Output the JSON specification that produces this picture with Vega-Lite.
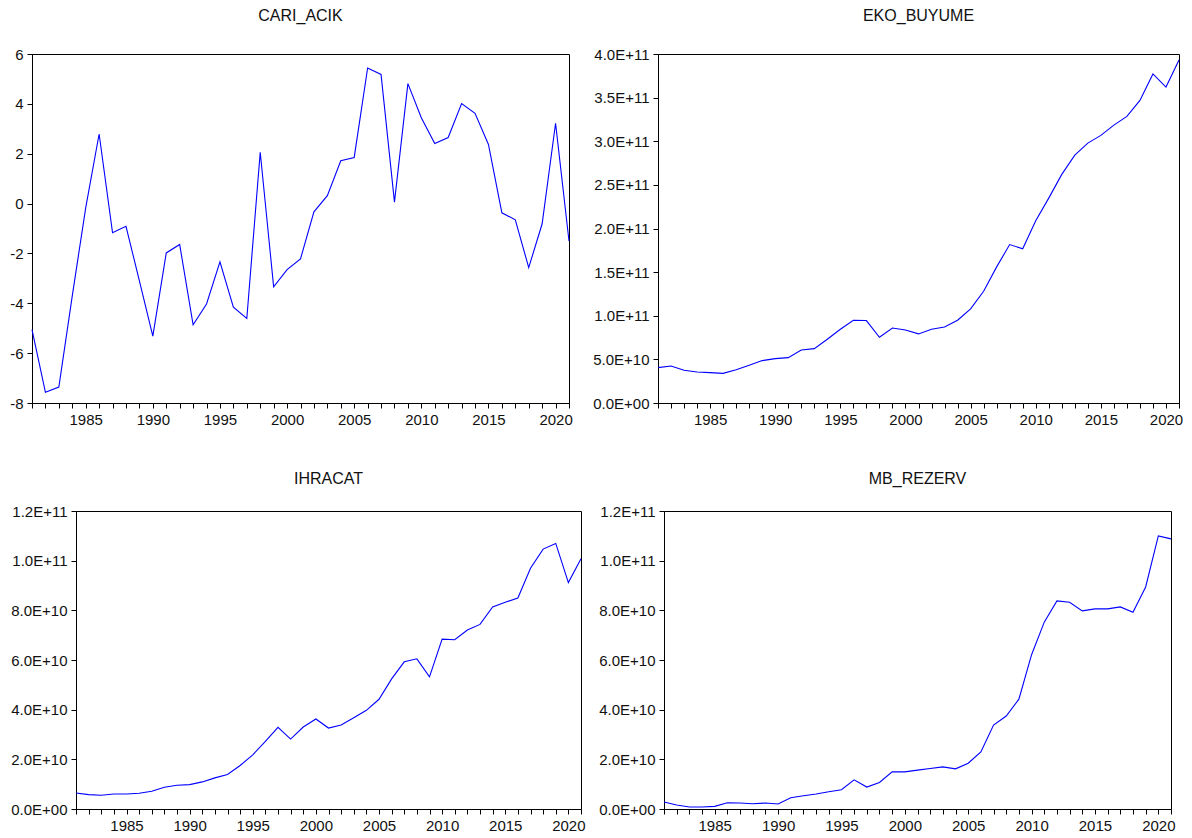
{
  "$schema": "https://vega.github.io/schema/vega-lite/v6.json",
  "background": "white",
  "padding": {"left": 7, "top": 7, "right": 5, "bottom": 4},
  "data": {"values": [
    {"year": 1981, "CARI_ACIK": -5.06, "EKO_BUYUME": 4.05e10, "IHRACAT": 6.46e9, "MB_REZERV": 2.81e9},
    {"year": 1982, "CARI_ACIK": -7.57, "EKO_BUYUME": 4.24e10, "IHRACAT": 5.79e9, "MB_REZERV": 1.60e9},
    {"year": 1983, "CARI_ACIK": -7.36, "EKO_BUYUME": 3.75e10, "IHRACAT": 5.52e9, "MB_REZERV": 0.80e9},
    {"year": 1984, "CARI_ACIK": -3.7, "EKO_BUYUME": 3.56e10, "IHRACAT": 6.06e9, "MB_REZERV": 0.80e9},
    {"year": 1985, "CARI_ACIK": -0.17, "EKO_BUYUME": 3.48e10, "IHRACAT": 6.06e9, "MB_REZERV": 1.07e9},
    {"year": 1986, "CARI_ACIK": 2.79, "EKO_BUYUME": 3.40e10, "IHRACAT": 6.33e9, "MB_REZERV": 2.54e9},
    {"year": 1987, "CARI_ACIK": -1.17, "EKO_BUYUME": 3.82e10, "IHRACAT": 7.14e9, "MB_REZERV": 2.41e9},
    {"year": 1988, "CARI_ACIK": -0.91, "EKO_BUYUME": 4.32e10, "IHRACAT": 8.75e9, "MB_REZERV": 2.14e9},
    {"year": 1989, "CARI_ACIK": -3.1, "EKO_BUYUME": 4.86e10, "IHRACAT": 9.56e9, "MB_REZERV": 2.41e9},
    {"year": 1990, "CARI_ACIK": -5.32, "EKO_BUYUME": 5.09e10, "IHRACAT": 9.83e9, "MB_REZERV": 2.00e9},
    {"year": 1991, "CARI_ACIK": -1.98, "EKO_BUYUME": 5.20e10, "IHRACAT": 1.091e10, "MB_REZERV": 4.54e9},
    {"year": 1992, "CARI_ACIK": -1.64, "EKO_BUYUME": 6.08e10, "IHRACAT": 1.253e10, "MB_REZERV": 5.35e9},
    {"year": 1993, "CARI_ACIK": -4.86, "EKO_BUYUME": 6.23e10, "IHRACAT": 1.387e10, "MB_REZERV": 6.01e9},
    {"year": 1994, "CARI_ACIK": -4.03, "EKO_BUYUME": 7.30e10, "IHRACAT": 1.751e10, "MB_REZERV": 6.95e9},
    {"year": 1995, "CARI_ACIK": -2.34, "EKO_BUYUME": 8.45e10, "IHRACAT": 2.182e10, "MB_REZERV": 7.75e9},
    {"year": 1996, "CARI_ACIK": -4.16, "EKO_BUYUME": 9.48e10, "IHRACAT": 2.721e10, "MB_REZERV": 1.176e10},
    {"year": 1997, "CARI_ACIK": -4.61, "EKO_BUYUME": 9.45e10, "IHRACAT": 3.286e10, "MB_REZERV": 8.82e9},
    {"year": 1998, "CARI_ACIK": 2.06, "EKO_BUYUME": 7.53e10, "IHRACAT": 2.815e10, "MB_REZERV": 1.069e10},
    {"year": 1999, "CARI_ACIK": -3.34, "EKO_BUYUME": 8.60e10, "IHRACAT": 3.30e10, "MB_REZERV": 1.497e10},
    {"year": 2000, "CARI_ACIK": -2.65, "EKO_BUYUME": 8.37e10, "IHRACAT": 3.623e10, "MB_REZERV": 1.497e10},
    {"year": 2001, "CARI_ACIK": -2.22, "EKO_BUYUME": 7.92e10, "IHRACAT": 3.259e10, "MB_REZERV": 1.564e10},
    {"year": 2002, "CARI_ACIK": -0.33, "EKO_BUYUME": 8.45e10, "IHRACAT": 3.380e10, "MB_REZERV": 1.630e10},
    {"year": 2003, "CARI_ACIK": 0.32, "EKO_BUYUME": 8.72e10, "IHRACAT": 3.677e10, "MB_REZERV": 1.697e10},
    {"year": 2004, "CARI_ACIK": 1.72, "EKO_BUYUME": 9.48e10, "IHRACAT": 3.973e10, "MB_REZERV": 1.617e10},
    {"year": 2005, "CARI_ACIK": 1.85, "EKO_BUYUME": 1.078e11, "IHRACAT": 4.418e10, "MB_REZERV": 1.844e10},
    {"year": 2006, "CARI_ACIK": 5.44, "EKO_BUYUME": 1.281e11, "IHRACAT": 5.239e10, "MB_REZERV": 2.299e10},
    {"year": 2007, "CARI_ACIK": 5.18, "EKO_BUYUME": 1.560e11, "IHRACAT": 5.926e10, "MB_REZERV": 3.381e10},
    {"year": 2008, "CARI_ACIK": 0.06, "EKO_BUYUME": 1.816e11, "IHRACAT": 6.047e10, "MB_REZERV": 3.742e10},
    {"year": 2009, "CARI_ACIK": 4.81, "EKO_BUYUME": 1.767e11, "IHRACAT": 5.320e10, "MB_REZERV": 4.423e10},
    {"year": 2010, "CARI_ACIK": 3.44, "EKO_BUYUME": 2.088e11, "IHRACAT": 6.842e10, "MB_REZERV": 6.214e10},
    {"year": 2011, "CARI_ACIK": 2.41, "EKO_BUYUME": 2.348e11, "IHRACAT": 6.815e10, "MB_REZERV": 7.524e10},
    {"year": 2012, "CARI_ACIK": 2.65, "EKO_BUYUME": 2.620e11, "IHRACAT": 7.205e10, "MB_REZERV": 8.379e10},
    {"year": 2013, "CARI_ACIK": 4.01, "EKO_BUYUME": 2.841e11, "IHRACAT": 7.434e10, "MB_REZERV": 8.326e10},
    {"year": 2014, "CARI_ACIK": 3.62, "EKO_BUYUME": 2.979e11, "IHRACAT": 8.135e10, "MB_REZERV": 7.978e10},
    {"year": 2015, "CARI_ACIK": 2.37, "EKO_BUYUME": 3.067e11, "IHRACAT": 8.323e10, "MB_REZERV": 8.058e10},
    {"year": 2016, "CARI_ACIK": -0.37, "EKO_BUYUME": 3.185e11, "IHRACAT": 8.498e10, "MB_REZERV": 8.058e10},
    {"year": 2017, "CARI_ACIK": -0.65, "EKO_BUYUME": 3.285e11, "IHRACAT": 9.697e10, "MB_REZERV": 8.138e10},
    {"year": 2018, "CARI_ACIK": -2.57, "EKO_BUYUME": 3.468e11, "IHRACAT": 1.0465e11, "MB_REZERV": 7.925e10},
    {"year": 2019, "CARI_ACIK": -0.81, "EKO_BUYUME": 3.771e11, "IHRACAT": 1.0694e11, "MB_REZERV": 8.940e10},
    {"year": 2020, "CARI_ACIK": 3.22, "EKO_BUYUME": 3.621e11, "IHRACAT": 9.118e10, "MB_REZERV": 1.0998e11},
    {"year": 2021, "CARI_ACIK": -1.5, "EKO_BUYUME": 3.931e11, "IHRACAT": 1.0074e11, "MB_REZERV": 1.0878e11}
  ]},
  "config": {
    "font": "Liberation Sans",
    "view": {"stroke": "black", "strokeWidth": 1},
    "axis": {"grid": false, "domainColor": "black", "tickColor": "black", "labelColor": "#111111", "labelFont": "Liberation Sans", "labelFontSize": 15, "tickSize": 5, "labelPadding": 4, "domainWidth": 1, "tickWidth": 1, "labelOverlap": false, "labelBound": false, "labelFlush": false},
    "title": {"font": "Liberation Sans", "fontSize": 16, "fontWeight": "normal", "color": "#111111", "baseline": "alphabetic", "frame": "group", "anchor": "middle"},
    "line": {"color": "#0000FF", "strokeWidth": 1.1}
  },
  "spacing": 42,
  "vconcat": [
    {
      "spacing": 7,
      "hconcat": [
        {
          "title": {"text": "CARI_ACIK", "offset": 23},
          "width": 537, "height": 349,
          "mark": "line",
          "encoding": {
            "x": {"field": "year", "type": "quantitative", "scale": {"domain": [1981, 2021], "nice": false, "zero": false},
                  "axis": {"title": null, "values": [1981,1982,1983,1984,1985,1986,1987,1988,1989,1990,1991,1992,1993,1994,1995,1996,1997,1998,1999,2000,2001,2002,2003,2004,2005,2006,2007,2008,2009,2010,2011,2012,2013,2014,2015,2016,2017,2018,2019,2020,2021], "labelExpr": "datum.value % 5 == 0 ? '' + datum.value : ''"}},
            "y": {"field": "CARI_ACIK", "type": "quantitative", "scale": {"domain": [-8, 6], "nice": false, "zero": false},
                  "axis": {"title": null, "values": [-8,-6,-4,-2,0,2,4,6], "labelExpr": "'' + datum.value", "minExtent": 24}}
          }
        },
        {
          "title": {"text": "EKO_BUYUME", "offset": 23},
          "width": 521, "height": 349,
          "mark": "line",
          "encoding": {
            "x": {"field": "year", "type": "quantitative", "scale": {"domain": [1981, 2021], "nice": false, "zero": false},
                  "axis": {"title": null, "values": [1981,1982,1983,1984,1985,1986,1987,1988,1989,1990,1991,1992,1993,1994,1995,1996,1997,1998,1999,2000,2001,2002,2003,2004,2005,2006,2007,2008,2009,2010,2011,2012,2013,2014,2015,2016,2017,2018,2019,2020,2021], "labelExpr": "datum.value % 5 == 0 ? '' + datum.value : ''"}},
            "y": {"field": "EKO_BUYUME", "type": "quantitative", "scale": {"domain": [0, 4e11], "nice": false},
                  "axis": {"title": null, "values": [0, 5e10, 1e11, 1.5e11, 2e11, 2.5e11, 3e11, 3.5e11, 4e11], "labelExpr": "datum.value == 0 ? '0.0E+00' : format(datum.value / pow(10, floor(log(datum.value) / LN10 + 1e-9)), '.1f') + 'E+' + format(floor(log(datum.value) / LN10 + 1e-9), '02d')", "minExtent": 77}}
          }
        }
      ]
    },
    {
      "spacing": -25,
      "hconcat": [
        {
          "width": 1, "height": 1,
          "data": {"values": []},
          "view": {"stroke": null},
          "mark": "point",
          "encoding": {}
        },
        {
          "spacing": 7,
          "hconcat": [
            {
              "title": {"text": "IHRACAT", "offset": 17},
              "width": 505, "height": 298,
              "mark": "line",
              "encoding": {
                "x": {"field": "year", "type": "quantitative", "scale": {"domain": [1981, 2021], "nice": false, "zero": false},
                      "axis": {"title": null, "values": [1981,1982,1983,1984,1985,1986,1987,1988,1989,1990,1991,1992,1993,1994,1995,1996,1997,1998,1999,2000,2001,2002,2003,2004,2005,2006,2007,2008,2009,2010,2011,2012,2013,2014,2015,2016,2017,2018,2019,2020,2021], "labelExpr": "datum.value % 5 == 0 ? '' + datum.value : ''"}},
                "y": {"field": "IHRACAT", "type": "quantitative", "scale": {"domain": [0, 1.2e11], "nice": false},
                      "axis": {"title": null, "values": [0, 2e10, 4e10, 6e10, 8e10, 1e11, 1.2e11], "labelExpr": "datum.value == 0 ? '0.0E+00' : format(datum.value / pow(10, floor(log(datum.value) / LN10 + 1e-9)), '.1f') + 'E+' + format(floor(log(datum.value) / LN10 + 1e-9), '02d')", "minExtent": 67}}
              }
            },
            {
              "title": {"text": "MB_REZERV", "offset": 17},
              "width": 507, "height": 298,
              "mark": "line",
              "encoding": {
                "x": {"field": "year", "type": "quantitative", "scale": {"domain": [1981, 2021], "nice": false, "zero": false},
                      "axis": {"title": null, "values": [1981,1982,1983,1984,1985,1986,1987,1988,1989,1990,1991,1992,1993,1994,1995,1996,1997,1998,1999,2000,2001,2002,2003,2004,2005,2006,2007,2008,2009,2010,2011,2012,2013,2014,2015,2016,2017,2018,2019,2020,2021], "labelExpr": "datum.value % 5 == 0 ? '' + datum.value : ''"}},
                "y": {"field": "MB_REZERV", "type": "quantitative", "scale": {"domain": [0, 1.2e11], "nice": false},
                      "axis": {"title": null, "values": [0, 2e10, 4e10, 6e10, 8e10, 1e11, 1.2e11], "labelExpr": "datum.value == 0 ? '0.0E+00' : format(datum.value / pow(10, floor(log(datum.value) / LN10 + 1e-9)), '.1f') + 'E+' + format(floor(log(datum.value) / LN10 + 1e-9), '02d')", "minExtent": 70}}
              }
            }
          ]
        }
      ]
    }
  ]
}
